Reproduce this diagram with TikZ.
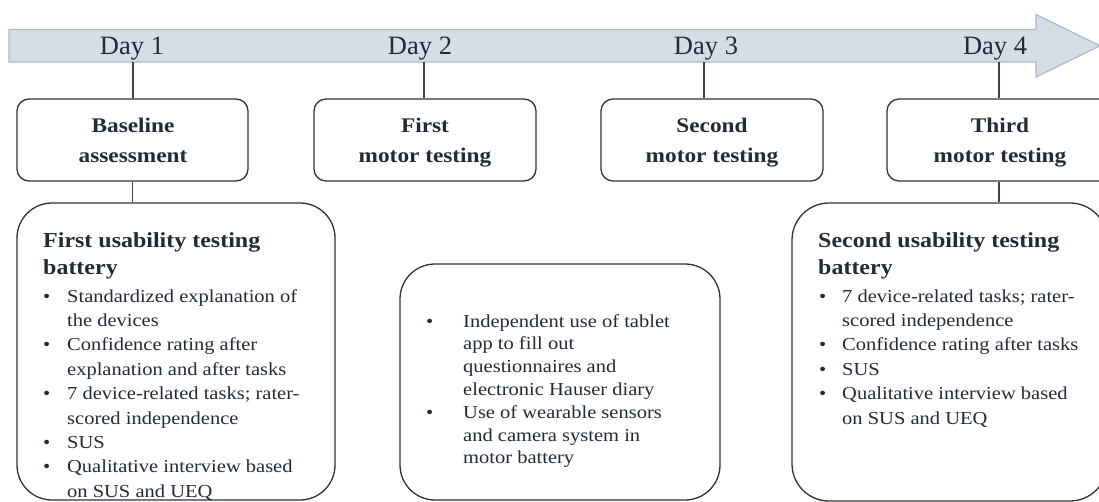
\documentclass[tikz,border=0pt]{standalone}
\usepackage{fontspec}
\setmainfont{Liberation Serif}[FakeStretch=1.12]
\newfontfamily\dayfont{Liberation Serif}
\definecolor{txt}{RGB}{35,42,55}
\definecolor{boxline}{RGB}{45,50,60}
\definecolor{connc}{RGB}{60,65,75}
\definecolor{bandfill}{RGB}{214,221,231}
\definecolor{bandline}{RGB}{170,184,203}
\begin{document}
\begin{tikzpicture}[x=1pt,y=-1pt,
  band/.style={fill=bandfill,draw=bandline,line width=1.2pt},
  daylbl/.style={font=\dayfont\fontsize{26.5}{30}\selectfont,text=txt,inner sep=0,anchor=base},
  topbox/.style={draw=boxline,line width=1.3pt,rounded corners=12pt,inner sep=0},
  bigbox/.style={draw=boxline,line width=1.3pt,rounded corners=35pt,inner sep=0},
  headtxt/.style={font=\bfseries\fontsize{20.8}{30}\selectfont,text=txt,anchor=base,inner sep=0},
  titletxt/.style={font=\bfseries\fontsize{21.4}{27}\selectfont,text=txt,anchor=base west,inner sep=0},
  listtxt/.style={font=\fontsize{18.3}{24.4}\selectfont,text=txt,anchor=base west,inner sep=0},
  midtxt/.style={font=\fontsize{18.3}{22.8}\selectfont,text=txt,anchor=base west,inner sep=0},
  conn/.style={draw=connc,line width=1.1pt}]
\useasboundingbox (0,0) rectangle (1099,502);
\clip (0,0) rectangle (1099,502);

% timeline arrow
\draw[band] (9,29.5) -- (1036,29.5) -- (1036,14.5) -- (1100,45.75) -- (1036,77) -- (1036,62) -- (9,62) -- cycle;
\node[daylbl] (d1) at (132,54.5) {Day 1};
\node[daylbl] (d2) at (420,54.5) {Day 2};
\node[daylbl] (d3) at (706,54.5) {Day 3};
\node[daylbl] (d4) at (995,54.5) {Day 4};
\coordinate (t1) at (133,62);
\coordinate (t2) at (424,62);
\coordinate (t3) at (704,62);
\coordinate (t4) at (999,62);

% top boxes
\node[topbox,minimum width=231,minimum height=82] (b1) at (132.5,140) {};
\node[topbox,minimum width=222,minimum height=82] (b2) at (425,140) {};
\node[topbox,minimum width=222,minimum height=82] (b3) at (712,140) {};
\node[topbox,minimum width=226,minimum height=82] (b4) at (1000,140) {};
\node[headtxt] (h1a) at (133,133) {Baseline};
\node[headtxt] (h1b) at (133,163) {assessment};
\node[headtxt] (h2a) at (425,133) {First};
\node[headtxt] (h2b) at (425,163) {motor testing};
\node[headtxt] (h3a) at (712,133) {Second};
\node[headtxt] (h3b) at (712,163) {motor testing};
\node[headtxt] (h4a) at (1000,133) {Third};
\node[headtxt] (h4b) at (1000,163) {motor testing};

% big boxes
\node[bigbox,minimum width=318,minimum height=297] (ua) at (176,351.5) {};
\node[bigbox,minimum width=320,minimum height=236] (mb) at (560,382) {};
\node[bigbox,minimum width=315,minimum height=298,rounded corners=37pt] (uc) at (949.5,352) {};

% connectors
\draw[conn] (t1) -- (t1 |- b1.north);
\draw[conn] (t2) -- (t2 |- b2.north);
\draw[conn] (t3) -- (t3 |- b3.north);
\draw[conn] (t4) -- (t4 |- b4.north);
\draw[conn] (b1.south) -- (b1.south |- ua.north);
\draw[conn] ([xshift=-1pt]b4.south) -- ([xshift=-1pt]b4.south |- uc.north);

% box A text
\node[titletxt] (ta) at (43,248) {\begin{tabular}[t]{@{}l@{}}First usability testing\\battery\end{tabular}};
\node[listtxt] (la) at (43,302) {\begin{tabular}[t]{@{}p{24pt}@{}l@{}}
\textbullet & Standardized explanation of\\
 & the devices\\
\textbullet & Confidence rating after\\
 & explanation and after tasks\\
\textbullet & 7 device-related tasks; rater-\\
 & scored independence\\
\textbullet & SUS\\
\textbullet & Qualitative interview based\\
 & on SUS and UEQ
\end{tabular}};

% middle box text
\node[midtxt] (lm) at (426,327) {\begin{tabular}[t]{@{}p{37pt}@{}l@{}}
\textbullet & Independent use of tablet\\
 & app to fill out\\
 & questionnaires and\\
 & electronic Hauser diary\\
\textbullet & Use of wearable sensors\\
 & and camera system in\\
 & motor battery
\end{tabular}};

% box C text
\node[titletxt] (tc) at (818,248) {\begin{tabular}[t]{@{}l@{}}Second usability testing\\battery\end{tabular}};
\node[listtxt] (lc) at (819,302) {\begin{tabular}[t]{@{}p{23pt}@{}l@{}}
\textbullet & 7 device-related tasks; rater-\\
 & scored independence\\
\textbullet & Confidence rating after tasks\\
\textbullet & SUS\\
\textbullet & Qualitative interview based\\
 & on SUS and UEQ
\end{tabular}};
\end{tikzpicture}
\end{document}
